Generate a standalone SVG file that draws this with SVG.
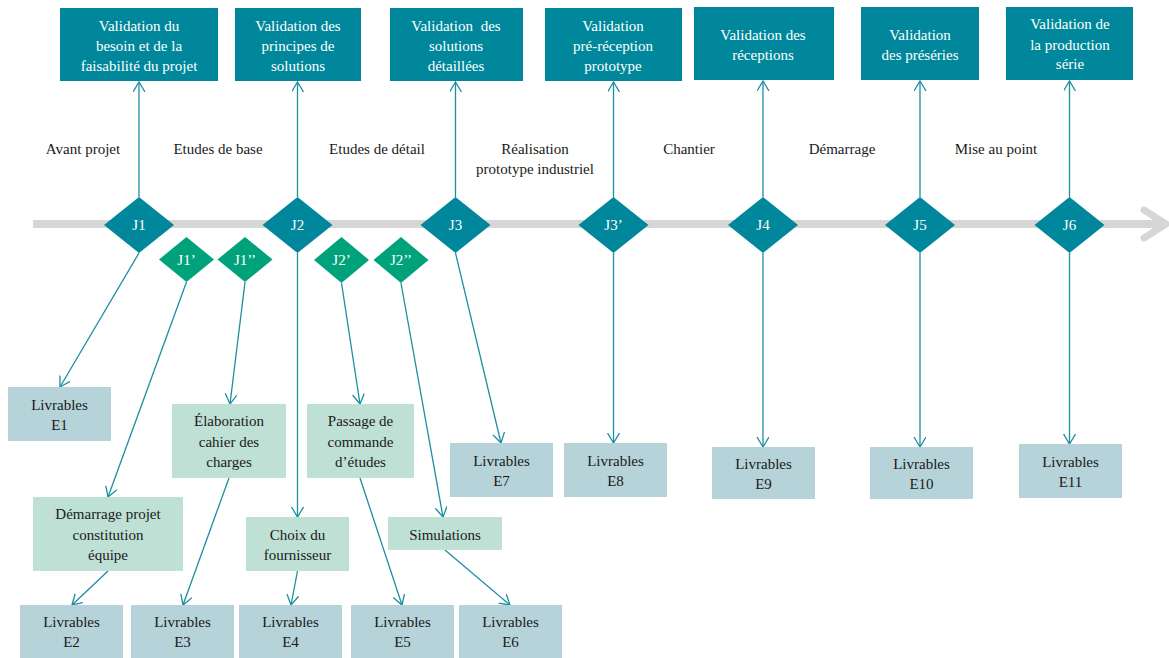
<svg xmlns="http://www.w3.org/2000/svg" width="1169" height="658" viewBox="0 0 1169 658">
<defs>
<marker id="ah" markerUnits="userSpaceOnUse" markerWidth="14" markerHeight="14" refX="10" refY="6" orient="auto" viewBox="0 0 14 14">
<path d="M0,0 L10,6 L0,12" fill="none" stroke="#1C8EA0" stroke-width="1.3"/>
</marker>
</defs>
<rect width="1169" height="658" fill="#FFFFFF"/>
<g id="timeline">
<line x1="33" y1="224" x2="1163" y2="224" stroke="#D6D6D6" stroke-width="8"/>
<path d="M1144,210 L1166,224 L1144,238" fill="none" stroke="#D6D6D6" stroke-width="7" stroke-linecap="round" stroke-linejoin="round"/>
</g>
<g id="phases" fill="#1A1A1A" font-family="Times New Roman" font-size="15" text-anchor="middle">
<text font-family="Times New Roman" x="83" y="154">Avant projet</text>
<text font-family="Times New Roman" x="218" y="154">Etudes de base</text>
<text font-family="Times New Roman" x="377" y="154">Etudes de détail</text>
<text font-family="Times New Roman" x="535" y="154">Réalisation</text>
<text font-family="Times New Roman" x="535" y="174">prototype industriel</text>
<text font-family="Times New Roman" x="689" y="154">Chantier</text>
<text font-family="Times New Roman" x="842" y="154">Démarrage</text>
<text font-family="Times New Roman" x="996" y="154">Mise au point</text>
</g>
<g id="connectors" stroke="#1C8EA0" stroke-width="1.3" fill="none" marker-end="url(#ah)">
<line x1="139" y1="197" x2="139" y2="82"/>
<line x1="297.5" y1="197" x2="297.5" y2="82"/>
<line x1="455.5" y1="197" x2="455.5" y2="82"/>
<line x1="613.5" y1="197" x2="613.5" y2="82"/>
<line x1="763" y1="197" x2="763" y2="81"/>
<line x1="920" y1="197" x2="920" y2="81"/>
<line x1="1069.5" y1="197" x2="1069.5" y2="81"/>
<line x1="139" y1="253" x2="60" y2="387"/>
<line x1="186.5" y1="282" x2="108" y2="497"/>
<line x1="245" y1="282" x2="230" y2="404"/>
<line x1="297.5" y1="253" x2="297.5" y2="517"/>
<line x1="341.5" y1="283" x2="360" y2="404"/>
<line x1="401" y1="283" x2="443" y2="517"/>
<line x1="455.5" y1="253" x2="501" y2="443"/>
<line x1="613.5" y1="253" x2="613.5" y2="443"/>
<line x1="763" y1="253" x2="763" y2="447"/>
<line x1="920" y1="253" x2="920" y2="447"/>
<line x1="1069.5" y1="253" x2="1069.5" y2="444"/>
<line x1="108" y1="571" x2="72" y2="605"/>
<line x1="229" y1="478" x2="183" y2="605"/>
<line x1="297.5" y1="571" x2="291" y2="605"/>
<line x1="360" y1="478" x2="402" y2="605"/>
<line x1="445" y1="550" x2="510" y2="605"/>
</g>
<g id="top-boxes" fill="#00879B">
<rect x="60" y="8" width="158" height="73"/>
<rect x="235" y="8" width="126" height="73"/>
<rect x="390" y="8" width="133" height="73"/>
<rect x="545" y="8" width="137" height="73"/>
<rect x="694" y="7" width="140" height="73"/>
<rect x="861" y="7" width="118" height="73"/>
<rect x="1006" y="7" width="127" height="73"/>
</g>
<g id="top-labels" fill="#FFFFFF" font-family="Times New Roman" font-size="15" text-anchor="middle">
<text font-family="Times New Roman" x="139" y="31">Validation du</text>
<text font-family="Times New Roman" x="139" y="51">besoin et de la</text>
<text font-family="Times New Roman" x="139" y="71">faisabilité du projet</text>
<text font-family="Times New Roman" x="298" y="31">Validation des</text>
<text font-family="Times New Roman" x="298" y="51">principes de</text>
<text font-family="Times New Roman" x="298" y="71">solutions</text>
<text font-family="Times New Roman" x="456" y="31" word-spacing="4">Validation des</text>
<text font-family="Times New Roman" x="456" y="51">solutions</text>
<text font-family="Times New Roman" x="456" y="71">détaillées</text>
<text font-family="Times New Roman" x="613" y="31">Validation</text>
<text font-family="Times New Roman" x="613" y="51">pré-réception</text>
<text font-family="Times New Roman" x="613" y="71">prototype</text>
<text font-family="Times New Roman" x="763" y="40">Validation des</text>
<text font-family="Times New Roman" x="763" y="60">réceptions</text>
<text font-family="Times New Roman" x="920" y="40">Validation</text>
<text font-family="Times New Roman" x="920" y="60">des préséries</text>
<text font-family="Times New Roman" x="1070" y="29">Validation de</text>
<text font-family="Times New Roman" x="1070" y="50">la production</text>
<text font-family="Times New Roman" x="1070" y="69">série</text>
</g>
<g id="milestones" font-family="Times New Roman" font-size="15" text-anchor="middle">
<path fill="#00879B" d="M139,197 L174,225 L139,253 L104,225 Z"/>
<path fill="#00879B" d="M297.5,197 L332.5,225 L297.5,253 L262.5,225 Z"/>
<path fill="#00879B" d="M455.5,197 L490.5,225 L455.5,253 L420.5,225 Z"/>
<path fill="#00879B" d="M613.5,197 L648.5,225 L613.5,253 L578.5,225 Z"/>
<path fill="#00879B" d="M763,197 L798,225 L763,253 L728,225 Z"/>
<path fill="#00879B" d="M920,197 L955,225 L920,253 L885,225 Z"/>
<path fill="#00879B" d="M1069.5,197 L1104.5,225 L1069.5,253 L1034.5,225 Z"/>
<path fill="#00A27B" d="M186.5,237 L214,259.5 L186.5,282 L159,259.5 Z"/>
<path fill="#00A27B" d="M245,237 L272.5,259.5 L245,282 L217.5,259.5 Z"/>
<path fill="#00A27B" d="M341.5,237 L369,260 L341.5,283 L314,260 Z"/>
<path fill="#00A27B" d="M401,237 L428.5,260 L401,283 L373.5,260 Z"/>
<text font-family="Times New Roman" fill="#FFFFFF" x="139" y="230">J1</text>
<text font-family="Times New Roman" fill="#FFFFFF" x="297.5" y="230">J2</text>
<text font-family="Times New Roman" fill="#FFFFFF" x="455.5" y="230">J3</text>
<text font-family="Times New Roman" fill="#FFFFFF" x="613.5" y="230">J3’</text>
<text font-family="Times New Roman" fill="#FFFFFF" x="763" y="230">J4</text>
<text font-family="Times New Roman" fill="#FFFFFF" x="920" y="230">J5</text>
<text font-family="Times New Roman" fill="#FFFFFF" x="1069.5" y="230">J6</text>
<text font-family="Times New Roman" fill="#FFFFFF" x="186.5" y="265">J1’</text>
<text font-family="Times New Roman" fill="#FFFFFF" x="245" y="265">J1’’</text>
<text font-family="Times New Roman" fill="#FFFFFF" x="341.5" y="265">J2’</text>
<text font-family="Times New Roman" fill="#FFFFFF" x="401" y="265">J2’’</text>
</g>
<g id="tasks" fill="#BFE0D4">
<rect x="172" y="404" width="114" height="74"/>
<rect x="307" y="404" width="107" height="74"/>
<rect x="33" y="497" width="150" height="74"/>
<rect x="246" y="517" width="103" height="54"/>
<rect x="388" y="517" width="114" height="33"/>
</g>
<g id="deliverables" fill="#B6D3D9">
<rect x="8" y="387" width="103" height="54"/>
<rect x="20" y="605" width="103" height="53"/>
<rect x="131" y="605" width="103" height="53"/>
<rect x="239" y="605" width="103" height="53"/>
<rect x="351" y="605" width="103" height="53"/>
<rect x="459" y="605" width="103" height="53"/>
<rect x="450" y="443" width="103" height="54"/>
<rect x="564" y="443" width="103" height="54"/>
<rect x="712" y="447" width="103" height="52"/>
<rect x="870" y="447" width="103" height="52"/>
<rect x="1019" y="444" width="103" height="54"/>
</g>
<g id="box-labels" fill="#1A1A1A" font-family="Times New Roman" font-size="15" text-anchor="middle">
<text font-family="Times New Roman" x="229" y="426">Élaboration</text>
<text font-family="Times New Roman" x="229" y="447">cahier des</text>
<text font-family="Times New Roman" x="229" y="467">charges</text>
<text font-family="Times New Roman" x="360.5" y="426">Passage de</text>
<text font-family="Times New Roman" x="360.5" y="447">commande</text>
<text font-family="Times New Roman" x="360.5" y="467">d’études</text>
<text font-family="Times New Roman" x="108" y="519">Démarrage projet</text>
<text font-family="Times New Roman" x="108" y="540">constitution</text>
<text font-family="Times New Roman" x="108" y="560">équipe</text>
<text font-family="Times New Roman" x="297.5" y="540">Choix du</text>
<text font-family="Times New Roman" x="297.5" y="560">fournisseur</text>
<text font-family="Times New Roman" x="445" y="540">Simulations</text>
<text font-family="Times New Roman" x="59.5" y="410">Livrables</text>
<text font-family="Times New Roman" x="59.5" y="430">E1</text>
<text font-family="Times New Roman" x="71.5" y="627">Livrables</text>
<text font-family="Times New Roman" x="71.5" y="647">E2</text>
<text font-family="Times New Roman" x="182.5" y="627">Livrables</text>
<text font-family="Times New Roman" x="182.5" y="647">E3</text>
<text font-family="Times New Roman" x="290.5" y="627">Livrables</text>
<text font-family="Times New Roman" x="290.5" y="647">E4</text>
<text font-family="Times New Roman" x="402.5" y="627">Livrables</text>
<text font-family="Times New Roman" x="402.5" y="647">E5</text>
<text font-family="Times New Roman" x="510.5" y="627">Livrables</text>
<text font-family="Times New Roman" x="510.5" y="647">E6</text>
<text font-family="Times New Roman" x="501.5" y="466">Livrables</text>
<text font-family="Times New Roman" x="501.5" y="486">E7</text>
<text font-family="Times New Roman" x="615.5" y="466">Livrables</text>
<text font-family="Times New Roman" x="615.5" y="486">E8</text>
<text font-family="Times New Roman" x="763.5" y="469">Livrables</text>
<text font-family="Times New Roman" x="763.5" y="489">E9</text>
<text font-family="Times New Roman" x="921.5" y="469">Livrables</text>
<text font-family="Times New Roman" x="921.5" y="489">E10</text>
<text font-family="Times New Roman" x="1070.5" y="467">Livrables</text>
<text font-family="Times New Roman" x="1070.5" y="487">E11</text>
</g>
</svg>
